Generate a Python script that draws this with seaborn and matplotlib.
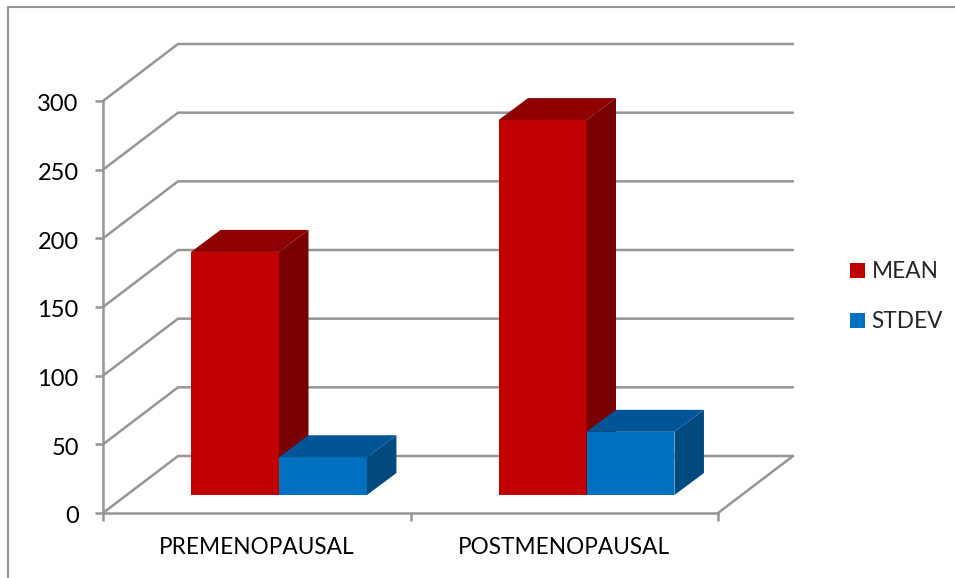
import matplotlib
matplotlib.use("Agg")
import matplotlib.pyplot as plt
from matplotlib.lines import Line2D
from matplotlib.patches import Polygon
from matplotlib.transforms import ScaledTranslation
import pandas as pd
import seaborn as sns

categories = ["PREMENOPAUSAL", "POSTMENOPAUSAL"]
series_names = ["MEAN", "STDEV"]
mean_values = [177, 273]
stdev_values = [27.5, 46]
y_ticks = [0, 50, 100, 150, 200, 250, 300]

FRONT = {"MEAN": "#C00000", "STDEV": "#0070C0"}
TOP = {"MEAN": "#8E0000", "STDEV": "#005596"}
SIDE = {"MEAN": "#780000", "STDEV": "#004A80"}
GREY = "#969696"

W, H = 955, 578
sns.set_theme(style="white")
plt.rcParams["font.family"] = ["Lato", "DejaVu Sans"]

fig = plt.figure(figsize=(W / 100, H / 100), dpi=100, facecolor="white")
ax = fig.add_axes([103 / W, 1 - 513 / H, 615 / W, 412 / H])

df = pd.DataFrame({
    "group": categories * 2,
    "series": [series_names[0]] * 2 + [series_names[1]] * 2,
    "value": mean_values + stdev_values,
})
sns.barplot(data=df, x="group", y="value", hue="series", hue_order=series_names,
            palette=FRONT, saturation=1, width=0.572, gap=0, ax=ax, zorder=3,
            linewidth=0, legend=True)

ax.set_xlim(-0.5, 1.5)
ax.set_ylim(0, 300)
ax.set_xlabel("")
ax.set_ylabel("")
ax.set_yticks(y_ticks)
ax.set_xticks([-0.5, 0.5, 1.5], minor=False)
ax.set_xticklabels([])
ax.set_xticks([0, 1], labels=categories, minor=True)

px_x = 2 / 615     # data units per pixel, horizontally
px_y = 300 / 412   # data units per pixel, vertically
wall_dx, wall_dy = 75 * px_x, 57 * px_y
bar_dx, bar_dy = 22.25 * px_x, 18 * px_y
depth_dx, depth_dy = 29.5 * px_x, 22 * px_y

# walls and floor
x0, x1 = ax.get_xlim()
for v in y_ticks:
    ax.plot([x0, x0 + wall_dx, x1 + wall_dx], [v, v + wall_dy, v + wall_dy],
            color=GREY, lw=1.8, zorder=1, clip_on=False, solid_joinstyle="miter")
ax.plot([x1, x1 + wall_dx], [0, wall_dy], color=GREY, lw=1.8, zorder=1, clip_on=False)

# bars: shift the front face onto the floor and add the extruded faces
bars = [p for c in ax.containers for p in c]
names = [n for n in series_names for _ in categories]
for order, (bar, name) in enumerate(zip(bars, names)):
    bar.set_x(bar.get_x() + bar_dx)
    bar.set_y(bar.get_y() + bar_dy)
    bar.set_clip_on(False)
    bar.set_zorder(3 + order * 0.1)
    xa, xb = bar.get_x(), bar.get_x() + bar.get_width()
    ya, yb = bar.get_y(), bar.get_y() + bar.get_height()
    ax.add_patch(Polygon([(xb, ya), (xb + depth_dx, ya + depth_dy),
                          (xb + depth_dx, yb + depth_dy), (xb, yb)],
                         closed=True, fc=SIDE[name], ec="none",
                         zorder=3 + order * 0.1, clip_on=False))
    ax.add_patch(Polygon([(xa, yb), (xb, yb), (xb + depth_dx, yb + depth_dy),
                          (xa + depth_dx, yb + depth_dy)],
                         closed=True, fc=TOP[name], ec="none",
                         zorder=3 + order * 0.1, clip_on=False))

for s in ["top", "right"]:
    ax.spines[s].set_visible(False)
for s in ["left", "bottom"]:
    ax.spines[s].set_color(GREY)
    ax.spines[s].set_linewidth(1.8)

ax.tick_params(axis="y", which="major", left=True, length=6, width=1.8, color=GREY,
               labelsize=17, labelcolor="black", pad=11.5)
ax.tick_params(axis="x", which="major", bottom=True, length=6, width=1.8, color=GREY)
ax.tick_params(axis="x", which="minor", bottom=False, labelsize=16.3,
               labelcolor="black", pad=13.5)

# the y labels sit slightly below their ticks in the reference
for lab in ax.get_yticklabels():
    lab.set_transform(lab.get_transform() + ScaledTranslation(0, -1.3 / 72, fig.dpi_scale_trans))

# outer chart frame (top and left edges only)
fig.add_artist(Line2D([8 / W, 8 / W, 1], [0, 1 - 7 / H, 1 - 7 / H],
                      color=GREY, lw=1.5, transform=fig.transFigure))

handles, labels = ax.get_legend_handles_labels()
ax.get_legend().remove()
fig.legend(handles, labels, loc="center left", bbox_to_anchor=(843 / W, 1 - 296.7 / H),
           frameon=False, fontsize=16.3, handlelength=0.66, handleheight=0.66,
           handletextpad=0.3, labelspacing=1.27, borderpad=0.3, borderaxespad=0)

fig.savefig("out.png", dpi=100, facecolor="white")
